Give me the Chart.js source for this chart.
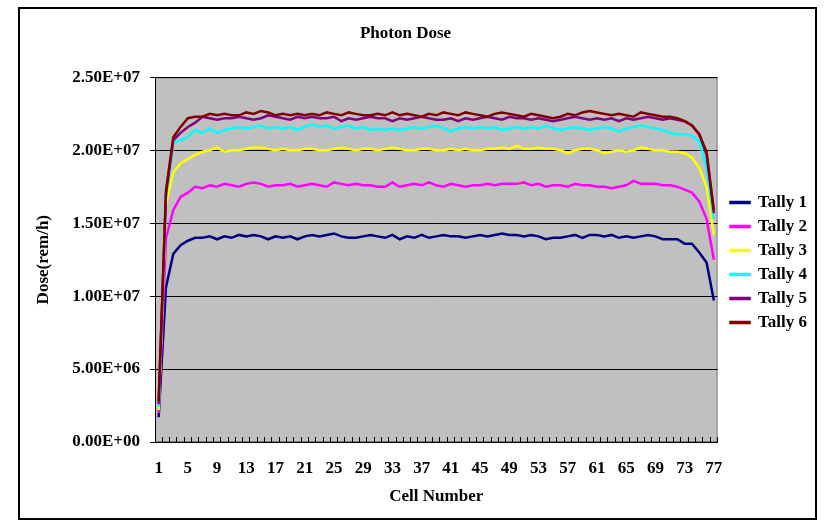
<!DOCTYPE html>
<html>
<head>
<meta charset="utf-8">
<title>Photon Dose</title>
<script src="https://cdn.jsdelivr.net/npm/chart.js@4.4.0/dist/chart.umd.min.js"></script>
<style>
html, body { margin: 0; padding: 0; background: #fff; }
</style>
</head>
<body>
<canvas id="doseChart" width="831" height="529"></canvas>
<script>
// cell numbers along the x axis
const cells = [1, 2, 3, 4, 5, 6, 7, 8, 9, 10, 11, 12, 13, 14, 15, 16, 17, 18, 19, 20,
    21, 22, 23, 24, 25, 26, 27, 28, 29, 30, 31, 32, 33, 34, 35, 36, 37, 38, 39, 40,
    41, 42, 43, 44, 45, 46, 47, 48, 49, 50, 51, 52, 53, 54, 55, 56, 57, 58, 59, 60,
    61, 62, 63, 64, 65, 66, 67, 68, 69, 70, 71, 72, 73, 74, 75, 76, 77];
const shownCells = [1, 5, 9, 13, 17, 21, 25, 29, 33, 37, 41, 45, 49, 53, 57, 61, 65, 69, 73, 77];
const doseTicks = [0, 5e6, 10e6, 15e6, 20e6, 25e6];

const tallyNames = ['Tally 1', 'Tally 2', 'Tally 3', 'Tally 4', 'Tally 5', 'Tally 6'];
const tallyColors = ['#000080', '#ff00ff', '#ffff00', '#00ffff', '#800080', '#800000'];

const tally1 = [1.7e6, 10.6e6, 12.9e6, 13.5e6, 13.8e6, 14.0e6, 14.0e6, 14.1e6, 13.9e6, 14.1e6,
    14.0e6, 14.2e6, 14.1e6, 14.2e6, 14.1e6, 13.9e6, 14.1e6, 14.0e6, 14.1e6, 13.9e6,
    14.1e6, 14.2e6, 14.1e6, 14.2e6, 14.3e6, 14.1e6, 14.0e6, 14.0e6, 14.1e6, 14.2e6,
    14.1e6, 14.0e6, 14.2e6, 13.9e6, 14.1e6, 14.0e6, 14.2e6, 14.0e6, 14.1e6, 14.2e6,
    14.1e6, 14.1e6, 14.0e6, 14.1e6, 14.2e6, 14.1e6, 14.2e6, 14.3e6, 14.2e6, 14.2e6,
    14.1e6, 14.2e6, 14.1e6, 13.9e6, 14.0e6, 14.0e6, 14.1e6, 14.2e6, 14.0e6, 14.2e6,
    14.2e6, 14.1e6, 14.2e6, 14.0e6, 14.1e6, 14.0e6, 14.1e6, 14.2e6, 14.1e6, 13.9e6,
    13.9e6, 13.9e6, 13.6e6, 13.6e6, 13.0e6, 12.3e6, 9.7e6];
const tally2 = [2.0e6, 14.0e6, 15.9e6, 16.8e6, 17.1e6, 17.5e6, 17.4e6, 17.6e6, 17.5e6, 17.7e6,
    17.6e6, 17.5e6, 17.7e6, 17.8e6, 17.7e6, 17.5e6, 17.6e6, 17.6e6, 17.7e6, 17.5e6,
    17.6e6, 17.7e6, 17.6e6, 17.5e6, 17.8e6, 17.7e6, 17.6e6, 17.7e6, 17.6e6, 17.6e6,
    17.5e6, 17.5e6, 17.8e6, 17.5e6, 17.6e6, 17.7e6, 17.6e6, 17.8e6, 17.6e6, 17.5e6,
    17.7e6, 17.6e6, 17.5e6, 17.6e6, 17.6e6, 17.7e6, 17.6e6, 17.7e6, 17.7e6, 17.7e6,
    17.8e6, 17.6e6, 17.7e6, 17.5e6, 17.6e6, 17.6e6, 17.5e6, 17.7e6, 17.6e6, 17.6e6,
    17.5e6, 17.5e6, 17.4e6, 17.5e6, 17.6e6, 17.9e6, 17.7e6, 17.7e6, 17.7e6, 17.6e6,
    17.6e6, 17.5e6, 17.3e6, 17.1e6, 16.5e6, 15.3e6, 12.5e6];
const tally3 = [2.2e6, 16.3e6, 18.5e6, 19.1e6, 19.4e6, 19.7e6, 19.9e6, 20.0e6, 20.2e6, 19.9e6,
    20.0e6, 20.0e6, 20.1e6, 20.2e6, 20.2e6, 20.1e6, 20.0e6, 20.1e6, 20.0e6, 20.0e6,
    20.1e6, 20.1e6, 20.0e6, 20.0e6, 20.1e6, 20.2e6, 20.1e6, 20.0e6, 20.1e6, 20.1e6,
    20.0e6, 20.1e6, 20.2e6, 20.1e6, 20.0e6, 20.0e6, 20.1e6, 20.1e6, 20.0e6, 20.0e6,
    20.1e6, 20.0e6, 20.1e6, 20.0e6, 20.0e6, 20.1e6, 20.1e6, 20.2e6, 20.1e6, 20.3e6,
    20.1e6, 20.1e6, 20.2e6, 20.1e6, 20.1e6, 20.0e6, 19.8e6, 20.0e6, 20.1e6, 20.1e6,
    20.0e6, 19.8e6, 19.9e6, 20.0e6, 19.9e6, 20.0e6, 20.2e6, 20.1e6, 20.0e6, 20.0e6,
    19.9e6, 19.9e6, 19.8e6, 19.5e6, 18.8e6, 17.5e6, 14.2e6];
const tally4 = [2.4e6, 16.7e6, 20.5e6, 20.7e6, 20.9e6, 21.4e6, 21.2e6, 21.5e6, 21.2e6, 21.4e6,
    21.5e6, 21.6e6, 21.5e6, 21.6e6, 21.7e6, 21.5e6, 21.6e6, 21.5e6, 21.6e6, 21.4e6,
    21.6e6, 21.8e6, 21.6e6, 21.7e6, 21.5e6, 21.6e6, 21.7e6, 21.5e6, 21.6e6, 21.4e6,
    21.5e6, 21.4e6, 21.5e6, 21.4e6, 21.5e6, 21.6e6, 21.5e6, 21.6e6, 21.7e6, 21.5e6,
    21.3e6, 21.5e6, 21.6e6, 21.5e6, 21.6e6, 21.5e6, 21.6e6, 21.4e6, 21.5e6, 21.6e6,
    21.5e6, 21.6e6, 21.5e6, 21.7e6, 21.5e6, 21.4e6, 21.5e6, 21.6e6, 21.5e6, 21.4e6,
    21.5e6, 21.6e6, 21.5e6, 21.3e6, 21.5e6, 21.6e6, 21.7e6, 21.6e6, 21.5e6, 21.4e6,
    21.2e6, 21.1e6, 21.1e6, 21.0e6, 20.6e6, 18.8e6, 15.3e6];
const tally5 = [2.6e6, 17.0e6, 20.7e6, 21.2e6, 21.6e6, 21.9e6, 22.3e6, 22.2e6, 22.1e6, 22.2e6,
    22.2e6, 22.3e6, 22.2e6, 22.1e6, 22.2e6, 22.4e6, 22.3e6, 22.2e6, 22.1e6, 22.3e6,
    22.2e6, 22.3e6, 22.2e6, 22.2e6, 22.3e6, 22.0e6, 22.2e6, 22.1e6, 22.2e6, 22.3e6,
    22.2e6, 22.2e6, 22.0e6, 22.2e6, 22.1e6, 22.2e6, 22.3e6, 22.2e6, 22.1e6, 22.1e6,
    22.2e6, 22.0e6, 22.2e6, 22.1e6, 22.2e6, 22.3e6, 22.2e6, 22.1e6, 22.3e6, 22.2e6,
    22.2e6, 22.1e6, 22.2e6, 22.1e6, 22.0e6, 22.1e6, 22.2e6, 22.3e6, 22.2e6, 22.1e6,
    22.2e6, 22.1e6, 22.2e6, 22.0e6, 22.2e6, 22.1e6, 22.2e6, 22.3e6, 22.2e6, 22.1e6,
    22.2e6, 22.1e6, 22.0e6, 21.7e6, 21.1e6, 19.7e6, 15.7e6];
const tally6 = [2.8e6, 17.2e6, 20.9e6, 21.6e6, 22.2e6, 22.3e6, 22.3e6, 22.5e6, 22.4e6, 22.5e6,
    22.4e6, 22.4e6, 22.6e6, 22.5e6, 22.7e6, 22.6e6, 22.4e6, 22.5e6, 22.4e6, 22.5e6,
    22.4e6, 22.5e6, 22.4e6, 22.6e6, 22.5e6, 22.4e6, 22.6e6, 22.5e6, 22.4e6, 22.4e6,
    22.5e6, 22.4e6, 22.6e6, 22.4e6, 22.5e6, 22.4e6, 22.3e6, 22.5e6, 22.4e6, 22.6e6,
    22.5e6, 22.4e6, 22.6e6, 22.5e6, 22.4e6, 22.3e6, 22.5e6, 22.6e6, 22.5e6, 22.4e6,
    22.3e6, 22.5e6, 22.4e6, 22.3e6, 22.2e6, 22.3e6, 22.5e6, 22.4e6, 22.6e6, 22.7e6,
    22.6e6, 22.5e6, 22.4e6, 22.5e6, 22.4e6, 22.3e6, 22.6e6, 22.5e6, 22.4e6, 22.3e6,
    22.3e6, 22.2e6, 22.0e6, 21.7e6, 21.1e6, 19.9e6, 15.9e6];
const tallies = [tally1, tally2, tally3, tally4, tally5, tally6];

// Excel style 2.50E+07
function sci(v) {
    if (v === 0) return '0.00E+00';
    const e = Math.floor(Math.log10(v));
    const m = v / Math.pow(10, e);
    return m.toFixed(2) + 'E+' + String(e).padStart(2, '0');
}

const serif = 'Liberation Serif';

// white page, grey plot, black frame round the whole chart
const frame = {
    id: 'frame',
    beforeDraw(chart) {
        const c = chart.ctx, a = chart.chartArea;
        c.save();
        c.fillStyle = '#fff';
        c.fillRect(0, 0, chart.width, chart.height);
        c.fillStyle = '#c0c0c0';
        c.fillRect(a.left, a.top, a.right - a.left, a.bottom - a.top);
        c.strokeStyle = '#808080';
        c.lineWidth = 1;
        c.strokeRect(a.left + 0.5, a.top + 0.5, a.right - a.left - 1, a.bottom - a.top - 1);
        c.strokeStyle = '#000';
        c.lineWidth = 2;
        c.strokeRect(19, 8, 797, 511);
        c.restore();
    },
    afterLayout(chart) {
        // nudge legend a little away from the plot and down a bit
        chart.legend.left += 6;
        chart.legend.right += 6;
        chart.legend.top += 9;
        chart.legend.bottom += 9;
    }
};

Chart.defaults.color = '#000';
Chart.defaults.font.family = serif;
Chart.defaults.font.weight = 'bold';

const ctx = document.getElementById('doseChart');
const doseChart = new Chart(ctx, {
    type: 'line',
    data: {
        labels: cells,
        datasets: tallies.map((vals, i) => ({
            label: tallyNames[i],
            data: vals,
            borderColor: tallyColors[i],
            backgroundColor: tallyColors[i],
            borderWidth: 2.5,
            pointRadius: 0,
            tension: 0,
            order: tallies.length - i
        }))
    },
    options: {
        responsive: false,
        animation: false,
        devicePixelRatio: 1,
        layout: { padding: { left: 0, right: 20, top: 0, bottom: 22 } },
        plugins: {
            title: {
                display: true,
                text: 'Photon Dose',
                font: { size: 17, weight: 'bold' },
                padding: { top: 23, bottom: 34 }
            },
            legend: {
                position: 'right',
                labels: {
                    boxWidth: 19,
                    boxHeight: 1,
                    padding: 7,
                    font: { size: 17, weight: 'bold' },
                    sort: (a, b) => a.datasetIndex - b.datasetIndex
                }
            },
            tooltip: { enabled: false }
        },
        scales: {
            x: {
                offset: true,
                grid: {
                    offset: true,
                    drawOnChartArea: false,
                    tickLength: -5,
                    color: '#000'
                },
                border: { color: '#000', width: 1 },
                ticks: {
                    autoSkip: false,
                    maxRotation: 0,
                    padding: 21,
                    font: { size: 17, weight: 'bold' },
                    callback: function (val, idx) {
                        const c = cells[idx];
                        return shownCells.includes(c) ? String(c) : '';
                    }
                },
                title: {
                    display: true,
                    text: 'Cell Number',
                    font: { size: 17, weight: 'bold' },
                    padding: { top: 0, bottom: 0 }
                },
                afterFit: (scale) => { scale.height = 65; }
            },
            y: {
                min: 0,
                max: 25e6,
                afterBuildTicks: (scale) => { scale.ticks = doseTicks.map(v => ({ value: v })); },
                grid: { color: '#000', tickLength: 5 },
                border: { color: '#000', width: 1 },
                ticks: {
                    padding: 10,
                    font: { size: 17, weight: 'bold' },
                    callback: (v) => sci(v)
                },
                title: {
                    display: true,
                    text: 'Dose(rem/h)',
                    font: { size: 17, weight: 'bold' },
                    padding: { top: 33, bottom: 0 }
                },
                afterFit: (scale) => { scale.width = 155; }
            }
        }
    },
    plugins: [frame]
});
</script>
</body>
</html>
